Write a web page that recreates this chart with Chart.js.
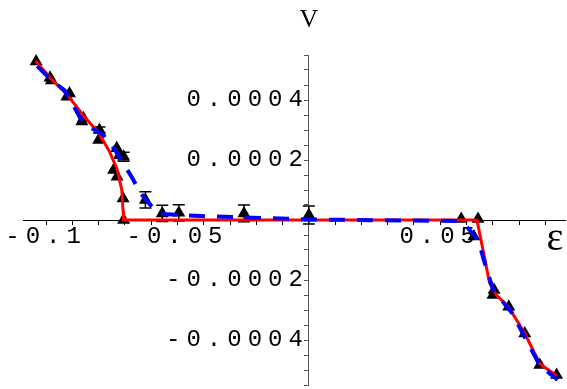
<!DOCTYPE html>
<html>
<head>
<meta charset="utf-8">
<script src="https://cdn.jsdelivr.net/npm/chart.js@4"></script>
<style>
html,body{margin:0;padding:0;background:#fff;}
#wrap{width:567px;height:389px;}
</style>
</head>
<body>
<div id="wrap"><canvas id="c" width="567" height="389"></canvas></div>
<script>
// ---- data ----
const triX = [-0.1038,-0.0985,-0.0980,-0.0911,-0.0921,-0.0858,-0.0864,-0.0797,-0.0800,-0.0731,-0.0721,-0.0705,-0.0743,-0.0730,-0.0707,-0.0705,-0.0622,-0.0558,-0.0495,-0.0247,0.0,0.0580,0.0644,0.0628,0.0705,0.0701,0.0761,0.0822,0.0879,0.0943];
const triY = [0.000528,0.000474,0.000465,0.000422,0.000411,0.000339,0.000328,0.000300,0.000267,0.000239,0.000216,0.000211,0.000167,0.000144,0.000072,0.0,0.000067,0.000022,0.000024,0.000022,0.000017,0.000003,0.000003,-0.000055,-0.000233,-0.000250,-0.000289,-0.000378,-0.000483,-0.000517];
const triErr = [0,0,0,0,0,0,0,0.00001,0,0,0,0.000015,0,0,0,0,0.000027,0.000027,0.000027,0.000028,0.00003,0,0,0,0,0,0,0,0,0];

const redX = [-0.1040,-0.0980,-0.0920,-0.0860,-0.0800,-0.0760,-0.0730,-0.0712,-0.0707,-0.0705,0.0640,0.0688,0.0714,0.0760,0.0820,0.0880,0.0945];
const redY = [0.000530,0.000470,0.000418,0.000350,0.000290,0.000230,0.000170,0.000100,0.000030,0.0,0.0,-0.000210,-0.000250,-0.000290,-0.000375,-0.000480,-0.000520];

const blueX = [-0.1034,-0.0985,-0.0931,-0.0908,-0.0870,-0.0840,-0.0782,-0.0737,-0.0672,-0.0641,-0.0603,-0.0565,-0.0412,-0.0183,0.0,0.0561,0.0588,0.0645,0.0664,0.0687,0.0702,0.0733,0.0771,0.0828,0.0878,0.0947];
const blueY = [0.000513,0.000470,0.000433,0.000400,0.000340,0.000313,0.000283,0.000233,0.000140,0.000090,0.000050,0.000020,0.0000133,0.0000067,0.0000017,-0.0000033,-0.000010,-0.0000667,-0.000127,-0.000193,-0.000233,-0.000267,-0.000307,-0.000400,-0.000483,-0.000533];

const xTickLabels = [-0.1, -0.05, 0.05];
const yTickLabels = [-0.0004, -0.0002, 0.0002, 0.0004];
const xAxisLabel = 'ε';
const yAxisLabel = 'V';

// ---- build ----
const pts = (xs, ys) => xs.map((x, i) => ({x: x, y: ys[i]}));
const isLabel = (v, list) => list.some(t => Math.abs(v - t) < 1e-9);

const monoFamily = '"Liberation Mono", "Courier New", monospace';
const fontFor = list => c => (c.tick && isLabel(c.tick.value, list)) ? {family: monoFamily, size: 24} : {family: monoFamily, size: 1};

const errorBars = {
  id: 'errorBars',
  afterDatasetDraw(chart, args) {
    if (args.index !== 0) return;
    const ctx = chart.ctx, xs = chart.scales.x, ys = chart.scales.y;
    ctx.save();
    ctx.strokeStyle = '#000';
    ctx.lineWidth = 1.5;
    triX.forEach((x, i) => {
      const e = triErr[i];
      if (!e) return;
      const px = xs.getPixelForValue(x);
      const y1 = ys.getPixelForValue(triY[i] + e);
      const y2 = ys.getPixelForValue(triY[i] - e);
      ctx.beginPath();
      ctx.moveTo(px, y1); ctx.lineTo(px, y2);
      ctx.moveTo(px - 6, y1); ctx.lineTo(px + 6, y1);
      ctx.moveTo(px - 6, y2); ctx.lineTo(px + 6, y2);
      ctx.stroke();
    });
    ctx.restore();
  }
};

const spacing = {
  id: 'spacing',
  beforeDraw(chart) { chart.ctx.letterSpacing = '6px'; },
  afterDraw(chart) {
    const ctx = chart.ctx;
    ctx.save();
    ctx.letterSpacing = '0px';
    ctx.fillStyle = '#000';
    ctx.textAlign = 'center';
    ctx.textBaseline = 'alphabetic';
    const x0 = chart.scales.x.getPixelForValue(0);
    ctx.font = '26px "Liberation Serif", "Times New Roman", serif';
    ctx.fillText(yAxisLabel, x0, 27);
    ctx.font = '40px "Liberation Serif", "Times New Roman", serif';
    ctx.fillText(xAxisLabel, 555, 250);
    ctx.restore();
  }
};

new Chart(document.getElementById('c'), {
  type: 'scatter',
  data: {
    datasets: [
      {
        label: 'data',
        data: pts(triX, triY),
        pointStyle: 'triangle',
        pointRadius: 7.5,
        pointBackgroundColor: '#000',
        pointBorderColor: '#000',
        pointBorderWidth: 0,
        showLine: false,
        clip: false,
        order: 3
      },
      {
        label: 'red',
        data: pts(redX, redY),
        showLine: true,
        borderColor: '#ff0000',
        borderWidth: 3,
        pointRadius: 0,
        tension: 0,
        clip: false,
        order: 2
      },
      {
        label: 'blue',
        data: pts(blueX, blueY),
        showLine: true,
        borderColor: '#0000ff',
        borderWidth: 4,
        borderDash: [16, 12],
        pointRadius: 0,
        tension: 0,
        clip: false,
        order: 1
      }
    ]
  },
  options: {
    responsive: false,
    animation: false,
    devicePixelRatio: 1,
    layout: {autoPadding: false, padding: {left: 23, right: 2, top: 55, bottom: 4}},
    plugins: {legend: {display: false}, tooltip: {enabled: false}},
    scales: {
      x: {
        type: 'linear',
        min: -0.1088, max: 0.0975,
        position: {y: 0},
        border: {display: true, color: '#000', width: 1},
        grid: {drawOnChartArea: false, drawTicks: true, tickLength: 4, color: '#000'},
        ticks: {
          stepSize: 0.01, includeBounds: false, autoSkip: false, maxRotation: 0,
          padding: -2, color: '#000', font: fontFor(xTickLabels),
          callback: v => isLabel(v, xTickLabels) ? String(Math.round(v * 100) / 100) : ''
        }
      },
      y: {
        type: 'linear',
        min: -0.00055, max: 0.00055,
        position: {x: 0},
        border: {display: true, color: '#555', width: 1},
        grid: {drawOnChartArea: false, drawTicks: true, tickLength: 4, color: '#555'},
        ticks: {
          stepSize: 0.00005, includeBounds: false, autoSkip: false,
          padding: -7, color: '#000', font: fontFor(yTickLabels),
          callback: v => isLabel(v, yTickLabels) ? v.toFixed(4) : ''
        }
      }
    }
  },
  plugins: [errorBars, spacing]
});
</script>
</body>
</html>
